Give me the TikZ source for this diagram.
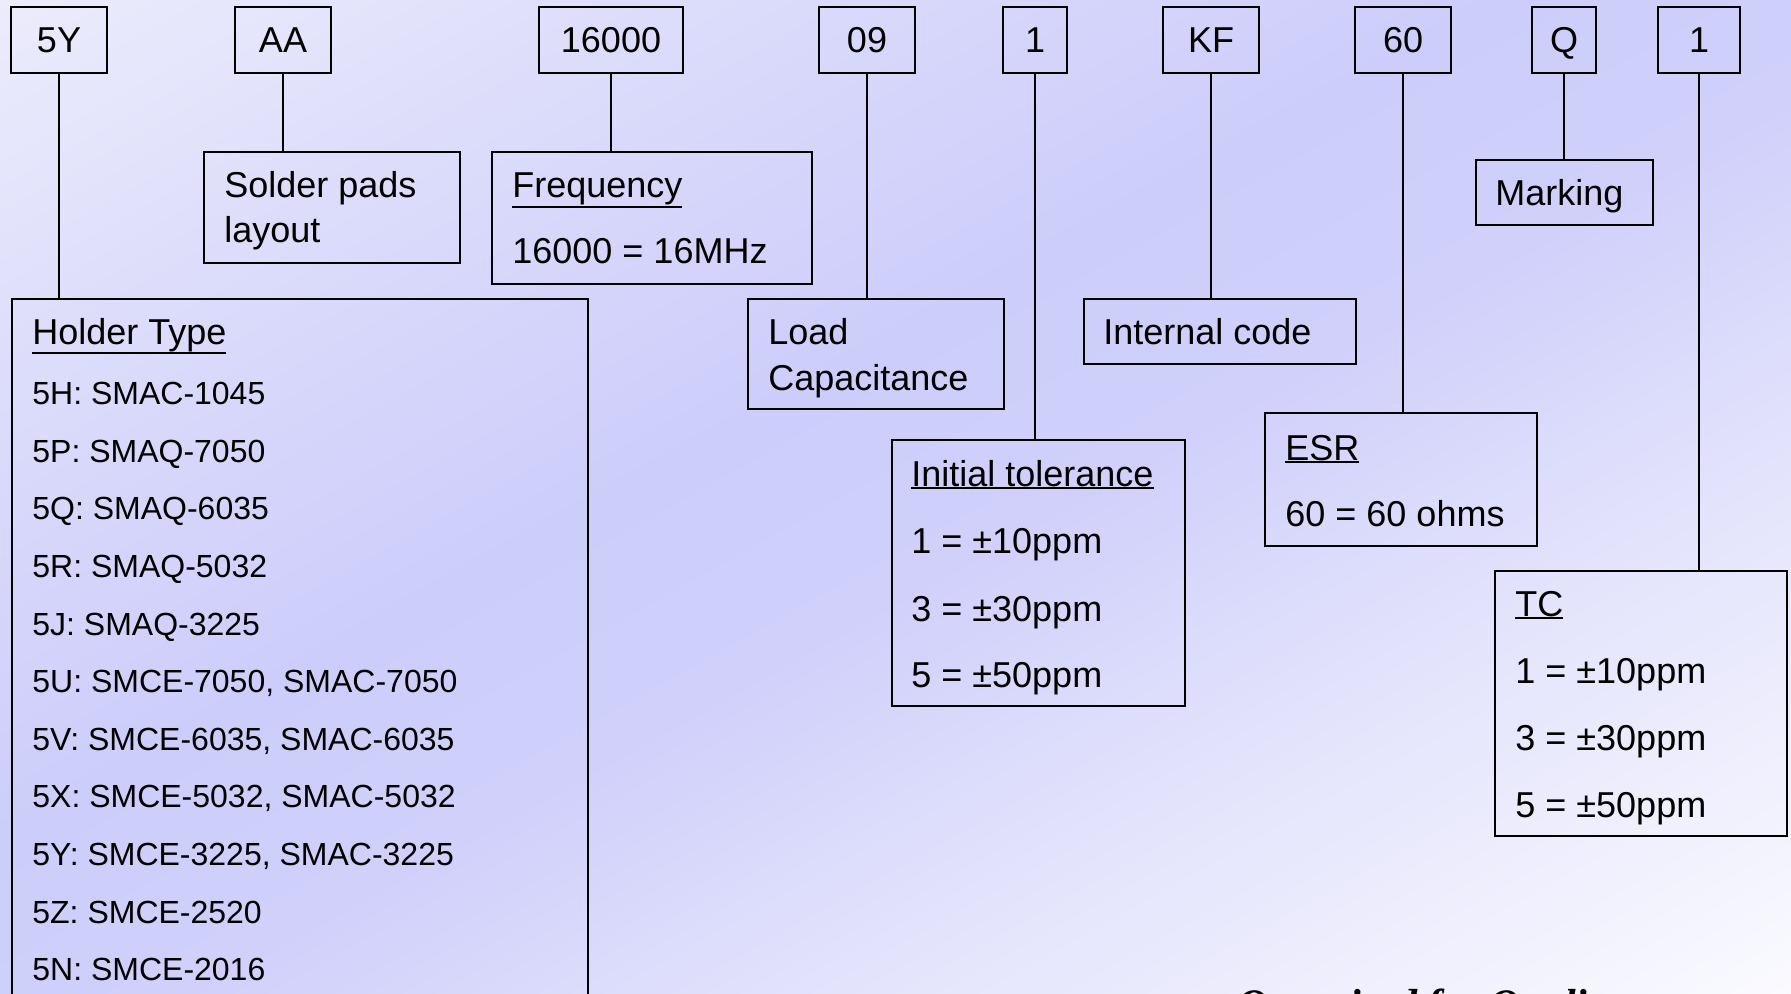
\documentclass[tikz,border=0pt]{standalone}
\usepackage{fontspec}
\setmainfont{Liberation Sans}
\newfontfamily\slogfont{Liberation Serif}
\usetikzlibrary{positioning,calc}

\definecolor{bgcorner}{RGB}{236,236,252}
\definecolor{bgsoft}{RGB}{220,220,251}
\definecolor{bgdeep}{RGB}{205,205,251}
\definecolor{bgdeepb}{RGB}{208,208,251}
\definecolor{bgpale}{RGB}{226,226,252}
\definecolor{bgwhite}{RGB}{250,250,255}
\pgfdeclarehorizontalshading{bgshade}{100bp}{color(0bp)=(bgcorner); color(25bp)=(bgcorner); color(35bp)=(bgsoft); color(46bp)=(bgdeep); color(52.5bp)=(bgdeepb); color(61bp)=(bgpale); color(75bp)=(bgwhite); color(100bp)=(bgwhite)}

\newcommand\headline[1]{\setbox0=\hbox{#1}\rlap{\rule[\dimexpr-\dp0-1.5pt\relax]{\wd0}{1pt}}\box0}

\begin{document}
\begin{tikzpicture}[x=0.5pt, y=-0.5pt,
    codebox/.style ={draw, line width=1pt, minimum height=33pt, inner sep=0pt, text height=12.9pt, text depth=0pt, font=\fontsize{18}{21}\selectfont},
    infobox/.style ={draw, line width=1pt, anchor=north west, inner sep=0pt},
    infotext/.style ={anchor=base west, inner sep=0pt, font=\fontsize{18}{21}\selectfont},
    entrytext/.style ={infotext, font=\fontsize{16}{19}\selectfont},
    link/.style ={line width=0.75pt}]
    \useasboundingbox (0,0) rectangle (1791,994);
    \begin{scope}
      \clip (0,0) rectangle (1791,994);
      \begin{scope}[transform canvas={rotate=-60.9}]
        \shade[shading=bgshade] (0,-1800) rectangle (1739,1800);
      \end{scope}
      \node[anchor=base west, inner sep=0pt, font=\slogfont\bfseries\itshape\fontsize{21}{25}\selectfont] (slogan) at (1237,1018) {Organized for Quality};
    \end{scope}

    % part number
    \node[codebox, minimum width=48pt] (c5Y) at (59,40) {5Y};
    \node[codebox, minimum width=48pt] (cAA) at (283,40) {AA};
    \node[codebox, minimum width=72pt] (cFreq) at (611,40) {16000};
    \node[codebox, minimum width=48pt] (cLoad) at (867,40) {09};
    \node[codebox, minimum width=32pt] (cTol) at (1035,40) {1};
    \node[codebox, minimum width=48pt] (cKF) at (1211,40) {KF};
    \node[codebox, minimum width=48pt] (cESR) at (1403,40) {60};
    \node[codebox, minimum width=32pt] (cMark) at (1564,40) {Q};
    \node[codebox, minimum width=41pt] (cTC) at (1699,40) {1};

    \node[infobox, minimum width=128pt, minimum height=55.5pt] (solder) at (203,151) {};
    \node[infotext] (solderA) at ($(solder.north west)+(21,47)$) {Solder pads};
    \node[infotext] (solderB) at ($(solder.north west)+(21,92)$) {layout};

    \node[infobox, minimum width=160pt, minimum height=66pt] (freq) at (491,151) {};
    \node[infotext] (freqH) at ($(freq.north west)+(21,47)$) {\headline{Frequency}};
    \node[infotext] (freqA) at ($(freq.north west)+(21,113)$) {16000 = 16MHz};

    \node[infobox, minimum width=288pt, minimum height=400pt] (hold) at (11,298) {};
    \node[infotext] (holdH) at ($(hold.north west)+(21,46)$) {\headline{Holder Type}};
    \foreach \t [count=\i] in {5H: SMAC-1045, 5P: SMAQ-7050, 5Q: SMAQ-6035, 5R: SMAQ-5032,
      5J: SMAQ-3225, {5U: SMCE-7050, SMAC-7050}, {5V: SMCE-6035, SMAC-6035},
      {5X: SMCE-5032, SMAC-5032}, {5Y: SMCE-3225, SMAC-3225}, 5Z: SMCE-2520, 5N: SMCE-2016}
      \node[entrytext] (hold\i) at ($(hold.north west)+(21,49+57.6*\i)$) {\t};

    \node[infobox, minimum width=128pt, minimum height=55pt] (load) at (747,298) {};
    \node[infotext] (loadA) at ($(load.north west)+(21,46)$) {Load};
    \node[infotext] (loadB) at ($(load.north west)+(21,92)$) {Capacitance};

    \node[infobox, minimum width=136pt, minimum height=32.5pt] (icode) at (1083,298) {};
    \node[infotext] (icodeA) at ($(icode.north west)+(20,46)$) {Internal code};

    \node[infobox, minimum width=146.5pt, minimum height=133pt] (toler) at (891,439) {};
    \node[infotext] (tolerH) at ($(toler.north west)+(20,47)$) {\headline{Initial tolerance}};
    \node[infotext] (tolerA) at ($(toler.north west)+(20,114)$) {1 = ±10ppm};
    \node[infotext] (tolerB) at ($(toler.north west)+(20,182)$) {3 = ±30ppm};
    \node[infotext] (tolerC) at ($(toler.north west)+(20,248)$) {5 = ±50ppm};

    \node[infobox, minimum width=136pt, minimum height=66.5pt] (esr) at (1264,412) {};
    \node[infotext] (esrH) at ($(esr.north west)+(21,48)$) {\headline{ESR}};
    \node[infotext] (esrA) at ($(esr.north west)+(21,114)$) {60 = 60 ohms};

    \node[infobox, minimum width=88.5pt, minimum height=32.5pt] (mark) at (1475,159) {};
    \node[infotext] (markA) at ($(mark.north west)+(20,47)$) {Marking};

    \node[infobox, minimum width=146pt, minimum height=132.5pt] (tc) at (1494,570) {};
    \node[infotext] (tcH) at ($(tc.north west)+(21,46)$) {\headline{TC}};
    \node[infotext] (tcA) at ($(tc.north west)+(21,113)$) {1 = ±10ppm};
    \node[infotext] (tcB) at ($(tc.north west)+(21,180)$) {3 = ±30ppm};
    \node[infotext] (tcC) at ($(tc.north west)+(21,247)$) {5 = ±50ppm};

    \draw[link] (c5Y.south) -- (c5Y.south |- hold.north);
    \draw[link] (cAA.south) -- (cAA.south |- solder.north);
    \draw[link] (cFreq.south) -- (cFreq.south |- freq.north);
    \draw[link] (cLoad.south) -- (cLoad.south |- load.north);
    \draw[link] (cTol.south) -- (cTol.south |- toler.north);
    \draw[link] (cKF.south) -- (cKF.south |- icode.north);
    \draw[link] (cESR.south) -- (cESR.south |- esr.north);
    \draw[link] (cMark.south) -- (cMark.south |- mark.north);
    \draw[link] (cTC.south) -- (cTC.south |- tc.north);
\end{tikzpicture}
\end{document}
